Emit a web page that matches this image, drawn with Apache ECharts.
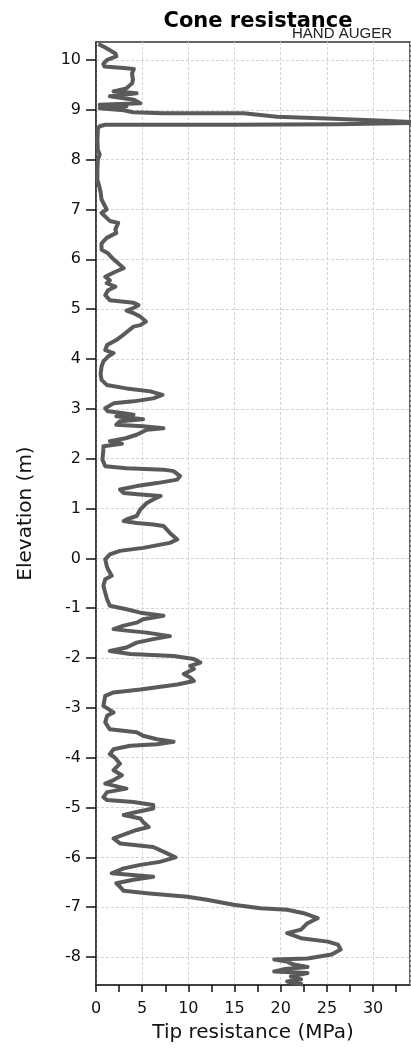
<!DOCTYPE html>
<html>
<head>
<meta charset="utf-8">
<script src="https://cdn.jsdelivr.net/npm/echarts@6/dist/echarts.min.js"></script>
<style>
html,body{margin:0;padding:0;background:#fff;}
#chart{width:411px;height:1048px;}
</style>
</head>
<body>
<div id="chart"></div>
<script>
// Elevation (m) and tip resistance (MPa) from top to bottom
const elevation = [
10.32,10.25,10.13,10.07,10.0,9.92,9.87,9.84,9.82,9.73,9.6,9.53,9.43,9.37,9.33,9.27,9.2,9.13,9.1,9.07,9.03,8.99,8.95,8.93,8.93,8.86,8.82,8.78,8.74,
8.73,8.71,8.70,8.70,8.67,8.62,8.4,8.2,8.1,8.0,7.8,7.6,7.5,7.35,7.2,7.0,6.93,6.77,6.73,6.6,6.53,6.43,6.32,6.19,6.12,6.0,5.92,5.82,5.75,5.65,5.58,5.52,5.45,5.38,5.28,5.18,
5.13,5.08,5.01,4.97,4.91,4.85,4.75,4.68,4.65,4.52,4.38,4.28,4.18,4.12,4.05,3.95,3.85,3.7,3.58,3.48,3.41,3.35,3.28,3.21,3.15,3.11,3.01,2.95,2.91,2.88,2.85,2.79,2.75,2.68,2.65,2.61,2.58,2.55,2.48,2.41,2.35,2.3,2.25,2.18,1.98,1.85,
1.81,1.78,1.75,1.65,1.58,1.51,1.45,1.38,1.31,1.28,1.25,1.18,1.11,0.98,0.85,0.78,0.75,0.71,0.68,0.65,0.51,0.38,0.31,0.21,0.15,0.08,-0.02,-0.15,-0.22,-0.35,-0.42,-0.55,-0.69,-0.82,-0.95,
-1.02,-1.09,-1.15,-1.22,-1.29,-1.35,-1.42,-1.45,-1.49,-1.56,-1.62,-1.69,-1.79,-1.86,-1.92,-1.96,-2.02,-2.09,-2.16,-2.22,-2.32,-2.39,-2.46,-2.53,-2.63,-2.69,-2.76,-2.96,-3.09,-3.16,-3.29,-3.43,-3.49,-3.56,-3.63,-3.68,-3.73,-3.76,-3.83,-3.93,
-3.99,-4.12,-4.25,-4.35,-4.45,-4.52,-4.62,-4.69,-4.79,-4.85,-4.89,-4.95,-5.02,-5.09,-5.15,-5.22,-5.29,-5.39,-5.45,-5.62,-5.72,-5.79,-5.92,-6.0,-6.09,-6.15,-6.22,-6.32,-6.39,-6.45,-6.52,-6.59,
-6.67,-6.72,-6.79,-6.85,-6.95,-7.02,-7.05,-7.12,-7.22,-7.32,-7.45,-7.52,-7.62,-7.69,-7.75,-7.85,-7.95,-8.03,-8.05,-8.09,-8.15,-8.2,-8.24,-8.29,-8.32,-8.39,-8.45,-8.49,-8.55
];
const tipResistance = [
0.25,1.0,2.1,2.2,1.2,0.8,0.9,3.0,4.1,3.9,4.0,3.9,3.3,1.9,4.4,1.5,4.1,4.8,0.4,3.3,0.4,3.0,4.0,7.3,16,19.6,25.7,31.2,36,
36,26,15,1.0,0.4,0.2,0.15,0.2,0.4,0.2,0.15,0.15,0.3,0.5,0.6,1.16,0.6,1.5,2.4,2.1,2.2,1.16,0.6,0.6,1.3,1.9,2.4,3.0,2.1,1.0,1.5,1.16,2.1,1.3,1.0,1.5,
4.06,4.6,3.9,3.3,4.2,4.8,5.4,4.8,4.06,3.2,2.2,1.2,1.0,1.9,1.3,0.8,0.6,0.5,0.6,1.16,3.3,5.9,7.2,6.2,4.06,1.9,1.0,1.3,3.0,4.06,2.2,5.1,2.6,2.2,5.1,7.3,5.5,5.3,4.4,3.2,1.5,2.8,0.8,0.8,0.7,1.0,
3.3,7.3,8.4,9.1,8.8,6.6,4.4,2.6,3.0,4.8,7.0,6.2,5.5,4.8,4.4,3.3,3.0,4.4,6.2,7.3,8.0,8.8,8.0,5.1,2.6,1.5,1.0,1.16,1.3,1.7,1.0,0.8,1.0,1.2,1.5,
3.3,4.8,7.3,5.1,4.4,3.0,1.9,3.3,5.5,8.0,6.2,4.4,3.3,1.5,3.7,8.4,10.6,11.3,10.2,10.6,9.5,10.2,10.6,8.8,4.8,1.9,1.0,0.8,1.9,1.2,1.0,1.5,4.4,5.1,6.6,8.4,6.6,3.7,1.9,1.5,
2.0,2.6,1.9,2.8,1.9,1.0,3.3,1.2,0.8,1.2,4.06,6.2,6.2,4.4,3.0,4.8,5.1,5.7,4.4,1.9,2.6,6.2,7.7,8.6,6.9,4.8,3.0,1.7,6.2,4.06,2.2,2.6,
3.0,5.5,9.9,12.0,14.9,17.8,20.7,22.5,24.0,22.9,22.2,20.7,22.2,25.1,26.2,26.5,25.5,22.9,19.3,20.7,21.4,22.9,20.5,19.3,22.9,21.1,22.2,20.7,22.4
];
const xTickValues = [0,2.5,5,7.5,10,12.5,15,17.5,20,22.5,25,27.5,30,32.5];
const xLabelValues = [0,5,10,15,20,25,30];
const yLabelValues = [-8,-7,-6,-5,-4,-3,-2,-1,0,1,2,3,4,5,6,7,8,9,10];

const points = elevation.map((e, i) => [tipResistance[i], e]);

const chart = echarts.init(document.getElementById('chart'), null, {renderer: 'canvas'});
const font = 'DejaVu Sans, Verdana, sans-serif';
const gridLine = {show: true, lineStyle: {color: '#d4d4d4', type: [3, 2], width: 1}};
chart.setOption({
  animation: false,
  backgroundColor: '#fff',
  title: [
    {text: 'Cone resistance', left: 253, top: 6, textAlign: 'center',
     textStyle: {fontFamily: font, fontWeight: 'bold', fontSize: 21, color: '#000'}},
    {text: 'HAND AUGER', right: 14, top: 21,
     textStyle: {fontFamily: 'Liberation Sans, Arial, sans-serif', fontWeight: 'normal', fontSize: 15, color: '#222'}}
  ],
  grid: {left: 96, right: 1, top: 42, bottom: 63, show: true, borderColor: '#333', borderWidth: 1.5, backgroundColor: 'transparent'},
  xAxis: [{
    type: 'value', min: 0, max: 34, interval: 5, position: 'bottom',
    name: 'Tip resistance (MPa)', nameLocation: 'middle', nameGap: 38,
    nameTextStyle: {fontFamily: font, fontSize: 20, color: '#111'},
    axisLine: {show: true, onZero: false, lineStyle: {color: '#333', width: 1.5}},
    axisTick: {show: true, length: 7, inside: false, customValues: xTickValues, lineStyle: {color: '#111', width: 1.5}},
    axisLabel: {customValues: xLabelValues, fontFamily: font, fontSize: 16, color: '#111', margin: 16},
    splitLine: {show: false}
  }, {
    type: 'value', min: 0, max: 34, interval: 5, position: 'bottom',
    axisLine: {show: false, onZero: false}, axisTick: {show: false}, axisLabel: {show: false},
    splitLine: gridLine
  }],
  yAxis: {
    type: 'value', min: -8.56, max: 10.36, splitNumber: 18,
    name: 'Elevation (m)', nameLocation: 'middle', nameGap: 60,
    nameTextStyle: {fontFamily: font, fontSize: 20, color: '#111'},
    axisLine: {show: true, onZero: false, lineStyle: {color: '#333', width: 1.5}},
    axisTick: {show: true, length: 10, customValues: yLabelValues, lineStyle: {color: '#111', width: 1.5}},
    axisLabel: {customValues: yLabelValues, fontFamily: font, fontSize: 16, color: '#111', margin: 15},
    splitLine: gridLine
  },
  series: [{
    type: 'line', data: points, showSymbol: false, symbol: 'none', clip: true, xAxisIndex: 0,
    lineStyle: {color: '#5a5a5a', width: 4, join: 'round'}
  }]
});
</script>
</body>
</html>
